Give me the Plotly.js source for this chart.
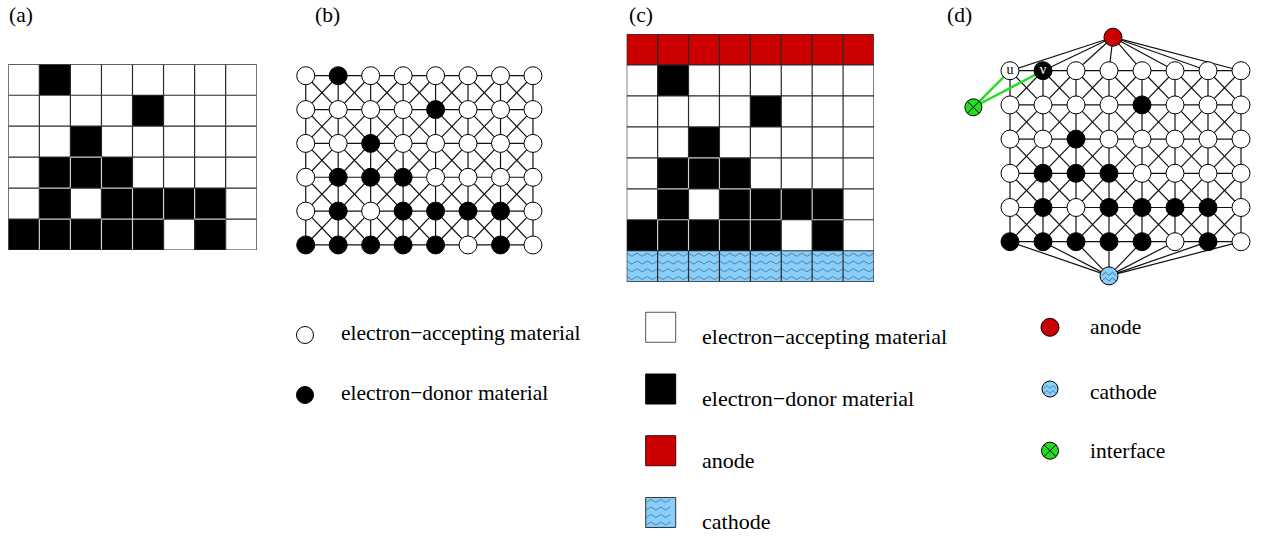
<!DOCTYPE html>
<html><head><meta charset="utf-8">
<script src="https://cdn.plot.ly/plotly-3.0.1.min.js"></script>
<style>html,body{margin:0;padding:0;background:#fff}#chart{width:1262px;height:539px}</style>
</head><body><div id="chart"></div>
<script>
// ---------------- data ----------------
// 0 = electron-accepting, 1 = electron-donor (rows top -> bottom)
const morphology = [
  [0,1,0,0,0,0,0,0],
  [0,0,0,0,1,0,0,0],
  [0,0,1,0,0,0,0,0],
  [0,1,1,1,0,0,0,0],
  [0,1,0,1,1,1,1,0],
  [1,1,1,1,1,0,1,0]
];
const ANODE = 2, CATHODE = 3;
const panelLabels = ['(a)', '(b)', '(c)', '(d)'];
const legendBLabels = ['electron\u2212accepting material', 'electron\u2212donor material'];
const legendCLabels = ['electron\u2212accepting material', 'electron\u2212donor material', 'anode', 'cathode'];
const legendDLabels = ['anode', 'cathode', 'interface'];
const nodeLabels = ['u', 'v'];          // first two nodes of the top row
const interfaceLinks = [[0,0],[0,1]];   // interface node linked to u and v (row, col)

// ---------------- styles / layout constants ----------------
const W = 1262, H = 539;
const SERIF = 'Liberation Serif';
const RED = '#cc0000', BLUE = '#87cefa', GREEN = '#22dd22', ZIG = '#3f6385';
const anodeNode = {x: 3.12, y: -0.98};
const cathodeNode = {x: 3.0, y: 6.0};
const interfaceNode = {x: -1.11, y: 1.07};

// axis boxes in pixels: [left, right, top, bottom], ranges x [min,max], y [bottomVal, topVal]
const AX = {
  a: {box: [8.3, 256.7, 64.3, 250],   xr: [-0.5, 7.5], yr: [5.5, -0.5]},
  b: {box: [289.5, 549.2, 58.8, 261.9], xr: [-0.5, 7.5], yr: [5.5, -0.5]},
  c: {box: [626.7, 874, 34, 281.7],   xr: [-0.5, 7.5], yr: [7.5, -0.5]},
  d: {box: [944, 1257.5, 16, 296.4],  xr: [-2, 7.5],   yr: [6.6, -1.6]},
  lb: {box: [284.4, 339.3, 305, 425],   xr: [-0.6, 1], yr: [1.5, -0.5]},
  lc: {box: [641.05, 700, 296.4, 531], xr: [-0.5, 1], yr: [3.3, -0.5]},
  ld: {box: [1031.15, 1087.7, 296.45, 481.55], xr: [-0.5, 1], yr: [2.5, -0.5]}
};
const pxX = k => (AX[k].box[1] - AX[k].box[0]) / (AX[k].xr[1] - AX[k].xr[0]);
const pxYdown = k => (AX[k].box[3] - AX[k].box[2]) / (AX[k].yr[0] - AX[k].yr[1]);
function mkAxes(k, n) {
  const [l, r, t, b] = AX[k].box, s = n === 1 ? '' : String(n);
  return {
    ['xaxis' + s]: {domain: [l / W, r / W], range: AX[k].xr, anchor: 'y' + s, visible: false, fixedrange: true},
    ['yaxis' + s]: {domain: [1 - b / H, 1 - t / H], range: AX[k].yr, anchor: 'x' + s, visible: false, fixedrange: true}
  };
}

const R = morphology.length, C = morphology[0].length;
const cGrid = [Array(C).fill(ANODE), ...morphology, Array(C).fill(CATHODE)];
const colorOf = v => v === 1 ? 'black' : 'white';

const shapes = [];
const annotations = [];
const traces = [];

// cell borders for the lattice panels
function cellBorders(grid, xref, yref) {
  const nr = grid.length, nc = grid[0].length;
  const blk = (r, c) => r >= 0 && r < nr && c >= 0 && c < nc && grid[r][c] === 1;
  const line = light => ({color: light ? '#d0d0d0' : '#2a2a2a', width: 1.2});
  for (let r = 0; r < nr; r++) for (let c = 0; c <= nc; c++)
    shapes.push({type: 'line', xref, yref, x0: c - 0.5, x1: c - 0.5, y0: r - 0.5, y1: r + 0.5,
      line: line(blk(r, c - 1) && blk(r, c))});
  for (let r = 0; r <= nr; r++) for (let c = 0; c < nc; c++)
    shapes.push({type: 'line', xref, yref, x0: c - 0.5, x1: c + 0.5, y0: r - 0.5, y1: r - 0.5,
      line: line(blk(r - 1, c) && blk(r, c))});
}

// 8-neighbour lattice edges
function latticeEdges(nr, nc) {
  const xs = [], ys = [];
  const nb = [[0,1],[1,0],[1,1],[1,-1]];
  for (let r = 0; r < nr; r++) for (let c = 0; c < nc; c++)
    for (const [dr, dc] of nb) {
      const r2 = r + dr, c2 = c + dc;
      if (r2 < nr && c2 >= 0 && c2 < nc) { xs.push(c, c2, null); ys.push(r, r2, null); }
    }
  return {xs, ys};
}
function nodes() {
  const xs = [], ys = [], cs = [];
  morphology.forEach((row, r) => row.forEach((v, c) => { xs.push(c); ys.push(r); cs.push(colorOf(v)); }));
  return {xs, ys, cs};
}
// zigzag decoration (pixel offsets converted through the axis scale)
function zigTrace(k, n, cx, cy, x0, x1, rowsDown, period, amp, width) {
  const sx = pxX(k), sy = pxYdown(k), xs = [], ys = [], s = n === 1 ? '' : String(n);
  for (const yo of rowsDown) {
    let i = 0;
    for (let x = x0; x <= x1 + 1e-6; x += period / 2, i++) {
      xs.push(cx + x / sx); ys.push(cy + (yo + (i % 2 ? -amp : amp)) / sy);
    }
    xs.push(null); ys.push(null);
  }
  return {type: 'scatter', mode: 'lines', x: xs, y: ys, xaxis: 'x' + s, yaxis: 'y' + s,
    line: {color: ZIG, width}, hoverinfo: 'skip', cliponaxis: false};
}

// ---------------- panel (a) ----------------
traces.push({type: 'heatmap', z: morphology, xaxis: 'x', yaxis: 'y', zmin: 0, zmax: 1,
  colorscale: [[0, 'white'], [1, 'black']], showscale: false, hoverinfo: 'skip'});
cellBorders(morphology, 'x', 'y');

// ---------------- panel (b) ----------------
const eB = latticeEdges(R, C), nB = nodes();
traces.push({type: 'scatter', mode: 'lines', x: eB.xs, y: eB.ys, xaxis: 'x2', yaxis: 'y2',
  line: {color: '#111', width: 1.2}, hoverinfo: 'skip', cliponaxis: false});
traces.push({type: 'scatter', mode: 'markers', x: nB.xs, y: nB.ys, xaxis: 'x2', yaxis: 'y2',
  marker: {size: 18, opacity: 1, color: nB.cs, line: {color: 'black', width: 1}}, hoverinfo: 'skip', cliponaxis: false});

// ---------------- panel (c) ----------------
traces.push({type: 'heatmap', z: cGrid, xaxis: 'x3', yaxis: 'y3', zmin: 0, zmax: 3,
  colorscale: [[0, 'white'], [0.1667, 'white'], [0.1667, 'black'], [0.5, 'black'], [0.5, RED],
               [0.8333, RED], [0.8333, BLUE], [1, BLUE]], showscale: false, hoverinfo: 'skip'});
(function () {
  const xs = [], ys = [], rc = cGrid.length - 1;
  for (const f of [0.13, 0.38, 0.63, 0.88]) {
    let k = 0;
    for (let x = -0.5; x <= C - 0.5 + 1e-6; x += 1 / 6, k++) {
      xs.push(x); ys.push(rc - 0.5 + f + (k % 2 ? 0.05 : -0.05));
    }
    xs.push(null); ys.push(null);
  }
  traces.push({type: 'scatter', mode: 'lines', x: xs, y: ys, xaxis: 'x3', yaxis: 'y3',
    line: {color: ZIG, width: 0.7}, hoverinfo: 'skip'});
})();
cellBorders(cGrid, 'x3', 'y3');

// ---------------- panel (d) ----------------
const eD = latticeEdges(R, C);
for (let c = 0; c < C; c++) {
  eD.xs.push(anodeNode.x, c, null); eD.ys.push(anodeNode.y, 0, null);
  eD.xs.push(cathodeNode.x, c, null); eD.ys.push(cathodeNode.y, R - 1, null);
}
traces.push({type: 'scatter', mode: 'lines', x: eD.xs, y: eD.ys, xaxis: 'x4', yaxis: 'y4',
  line: {color: '#111', width: 1.2}, hoverinfo: 'skip', cliponaxis: false});
(function () {
  const xs = [], ys = [];
  for (const [r, c] of interfaceLinks) { xs.push(interfaceNode.x, c, null); ys.push(interfaceNode.y, r, null); }
  traces.push({type: 'scatter', mode: 'lines', x: xs, y: ys, xaxis: 'x4', yaxis: 'y4',
    line: {color: GREEN, width: 2.4}, hoverinfo: 'skip', cliponaxis: false});
})();
const nD = nodes();
traces.push({type: 'scatter', mode: 'markers', x: nD.xs, y: nD.ys, xaxis: 'x4', yaxis: 'y4',
  marker: {size: 18, opacity: 1, color: nD.cs, line: {color: 'black', width: 1}}, hoverinfo: 'skip', cliponaxis: false});
traces.push({type: 'scatter', mode: 'markers', x: [anodeNode.x, cathodeNode.x, interfaceNode.x],
  y: [anodeNode.y, cathodeNode.y, interfaceNode.y], xaxis: 'x4', yaxis: 'y4',
  marker: {size: [18, 18, 17], opacity: 1, symbol: ['circle', 'circle', 'circle-x'], color: [RED, BLUE, GREEN],
    line: {color: 'black', width: 1}}, hoverinfo: 'skip', cliponaxis: false});
traces.push(zigTrace('d', 4, cathodeNode.x, cathodeNode.y, -7, 7, [-2, 3.5], 7, 1.6, 0.8));
traces.push({type: 'scatter', mode: 'text', x: interfaceLinks.map(p => p[1]), y: interfaceLinks.map(p => p[0]),
  text: nodeLabels, xaxis: 'x4', yaxis: 'y4', textposition: 'middle center',
  textfont: {family: SERIF, size: 14, color: interfaceLinks.map(([r, c]) => morphology[r][c] ? 'white' : 'black')},
  hoverinfo: 'skip', cliponaxis: false});

// ---------------- legends ----------------
traces.push({type: 'scatter', mode: 'markers', x: legendBLabels.map(() => 0), y: legendBLabels.map((_, i) => i),
  xaxis: 'x5', yaxis: 'y5', marker: {size: 17, opacity: 1, color: ['white', 'black'], line: {color: 'black', width: 1}},
  hoverinfo: 'skip', cliponaxis: false});
legendBLabels.forEach((t, i) => annotations.push({xref: 'x5', yref: 'y5', x: 1, y: i, text: t,
  showarrow: false, xanchor: 'left', yanchor: 'middle', yshift: 2, font: {family: SERIF, size: 21.5, color: 'black'}}));

traces.push({type: 'scatter', mode: 'markers', x: legendCLabels.map(() => 0), y: legendCLabels.map((_, i) => i),
  xaxis: 'x6', yaxis: 'y6', marker: {size: 30, opacity: 1, symbol: 'square', color: ['white', 'black', RED, BLUE],
    line: {color: ['#555', 'black', '#400', '#333'], width: 1}}, hoverinfo: 'skip', cliponaxis: false});
traces.push(zigTrace('lc', 6, 0, 3, -14.5, 14.5, [-11.5, -4, 3.5, 11], 9.7, 1.5, 0.7));
legendCLabels.forEach((t, i) => annotations.push({xref: 'x6', yref: 'y6', x: 1, y: i, text: t,
  showarrow: false, xanchor: 'left', yanchor: 'middle', yshift: -9.5, font: {family: SERIF, size: 22, color: 'black'}}));

traces.push({type: 'scatter', mode: 'markers', x: legendDLabels.map(() => 0), y: legendDLabels.map((_, i) => i),
  xaxis: 'x7', yaxis: 'y7', marker: {size: [18, 16, 17], opacity: 1, symbol: ['circle', 'circle', 'circle-x'],
    color: [RED, BLUE, GREEN], line: {color: 'black', width: 1}}, hoverinfo: 'skip', cliponaxis: false});
traces.push(zigTrace('ld', 7, 0, 1, -6, 6, [-2, 3], 6, 1.4, 0.7));
legendDLabels.forEach((t, i) => annotations.push({xref: 'x7', yref: 'y7', x: 1, y: i, text: t,
  showarrow: false, xanchor: 'left', yanchor: 'middle', yshift: [0, -2.5, 0][i], font: {family: SERIF, size: 21.5, color: 'black'}}));

// panel labels
[8, 314, 628, 946].forEach((px, i) => annotations.push({xref: 'paper', yref: 'paper', x: px / W, y: 1 - 15 / H,
  text: panelLabels[i], showarrow: false, xanchor: 'left', yanchor: 'middle', borderpad: 0,
  font: {family: SERIF, size: 21.5, color: 'black'}}));

const layout = Object.assign({
  width: W, height: H, margin: {l: 0, r: 0, t: 0, b: 0},
  paper_bgcolor: 'white', plot_bgcolor: 'rgba(0,0,0,0)', showlegend: false,
  shapes, annotations
}, mkAxes('a', 1), mkAxes('b', 2), mkAxes('c', 3), mkAxes('d', 4), mkAxes('lb', 5), mkAxes('lc', 6), mkAxes('ld', 7));
Plotly.newPlot('chart', traces, layout, {staticPlot: true, displayModeBar: false});
</script>
</body></html>
